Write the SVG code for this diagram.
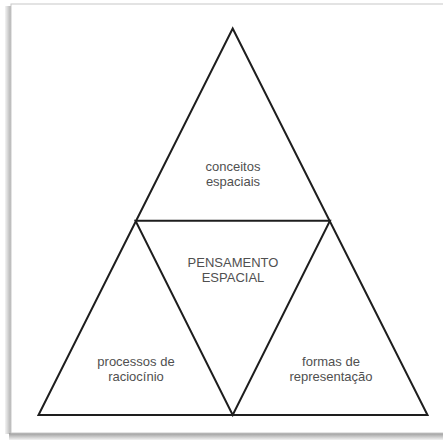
<svg xmlns="http://www.w3.org/2000/svg" width="443" height="441" viewBox="0 0 443 441">
<style>
.ln{fill:none;stroke:#1e1e1e;stroke-width:2;stroke-linejoin:miter}
.t{font-family:"Liberation Sans","DejaVu Sans",sans-serif;font-size:13px;fill:#505050;text-anchor:middle}
</style>
<defs>
<linearGradient id="sh" x1="0" y1="0" x2="0" y2="1">
<stop offset="0" stop-color="#9a9a9a"/>
<stop offset="1" stop-color="#f2f2f2"/>
</linearGradient>
<linearGradient id="shl" x1="0" y1="0" x2="1" y2="0">
<stop offset="0" stop-color="#f4f4f4"/>
<stop offset="1" stop-color="#b0b0b0"/>
</linearGradient>
</defs>
<rect width="443" height="441" fill="#fff"/>
<g id="frame">
<rect x="5" y="6" width="6" height="428" fill="url(#shl)"/>
<rect x="9" y="433" width="434" height="7" fill="url(#sh)"/>
<rect x="11" y="4" width="440" height="429" fill="#fff" stroke="#c8c8c8" stroke-width="1"/>
</g>
<g id="connectors">
<path class="ln" d="M232.7 28.5 L427.5 415 L38.5 415 Z"/>
<path class="ln" d="M135.5 220.8 L330 220.8 L232.7 415 Z"/>
</g>
<g id="conceitos">
<text class="t" x="233" y="170.5">conceitos</text>
<text class="t" x="233" y="186">espaciais</text>
</g>
<g id="pensamento">
<text class="t" x="233" y="266.5">PENSAMENTO</text>
<text class="t" x="233" y="281.5">ESPACIAL</text>
</g>
<g id="processos">
<text class="t" x="136" y="365.5">processos de</text>
<text class="t" x="136" y="380.5">raciocínio</text>
</g>
<g id="formas">
<text class="t" x="331" y="365.5">formas de</text>
<text class="t" x="331" y="380.5">representação</text>
</g>
</svg>
